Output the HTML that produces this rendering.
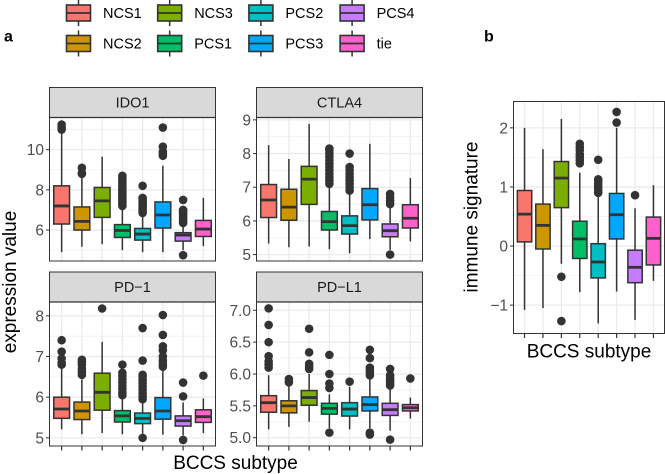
<!DOCTYPE html>
<html lang="en">
<head>
<meta charset="utf-8">
<title>BCCS subtype boxplots</title>
<style>
html,body{margin:0;padding:0;background:#fff;width:665px;height:474px;overflow:hidden}
svg{display:block;font-family:"Liberation Sans",Arial,sans-serif}
</style>
</head>
<body>
<svg id="fig" width="665" height="474" viewBox="0 0 665 474" xmlns="http://www.w3.org/2000/svg">
<text x="4" y="41.5" font-size="16" font-weight="700" fill="#000">a</text>
<text x="484" y="41.5" font-size="16" font-weight="700" fill="#000">b</text>
<text transform="translate(10.5,282) rotate(-90)" text-anchor="middle" dominant-baseline="central" font-size="19" fill="#000">expression value</text>
<text x="235.5" y="469" text-anchor="middle" font-size="19" fill="#000">BCCS subtype</text>
<text transform="translate(472,217) rotate(-90)" text-anchor="middle" dominant-baseline="central" font-size="19" fill="#000">immune signature</text>
<text x="589" y="357.5" text-anchor="middle" font-size="19" fill="#000">BCCS subtype</text>
</svg>
<script>
const categories = ["NCS1","NCS2","NCS3","PCS1","PCS2","PCS3","PCS4","tie"];
const colors = ["#F8766D","#CD9600","#7CAE00","#00BE67","#00BFC4","#00A9FF","#C77CFF","#FF61CC"];

const ido1Ticks = [6,8,10];
const ido1TickLabels = ["6","8","10"];
const ido1Low = [4.9,5.17,5.3,5.0,4.9,4.9,5.0,5.2];
const ido1Q1 = [6.3,6.0,6.63,5.63,5.5,6.1,5.45,5.68];
const ido1Med = [7.2,6.43,7.45,5.98,5.8,6.75,5.75,6.05];
const ido1Q3 = [8.2,7.15,8.12,6.27,6.08,7.4,5.87,6.48];
const ido1High = [10.9,8.65,9.65,7.08,6.75,9.2,6.25,7.6];
const ido1Out = [[11.0,11.1,11.25],[8.8,8.85,9.1],[],[7.2,7.3,7.4,7.5,7.6,7.7,7.8,7.9,8.0,8.1,8.2,8.3,8.4,8.5,8.6,8.7],[6.85,6.95,7.05,7.15,7.25,7.35,7.45,7.55,7.6,8.2],[9.7,9.8,9.9,10.15,11.1],[4.75,6.35,6.45,6.55,6.65,6.75,6.85,6.95,7.0,7.5],[]];

const ctla4Ticks = [5,6,7,8,9];
const ctla4TickLabels = ["5","6","7","8","9"];
const ctla4Low = [5.33,5.22,5.24,5.16,5.04,5.46,5.14,5.39];
const ctla4Q1 = [6.1,6.02,6.49,5.73,5.61,6.03,5.53,5.79];
const ctla4Med = [6.62,6.41,7.24,5.98,5.86,6.48,5.71,6.08];
const ctla4Q3 = [7.08,6.94,7.62,6.28,6.15,6.96,5.91,6.48];
const ctla4High = [8.25,7.84,8.88,7.02,6.84,8.29,6.45,7.27];
const ctla4Out = [[],[],[],[7.1,7.2,7.3,7.4,7.5,7.6,7.7,7.8,7.9,8.0,8.1,8.15],[6.9,7.0,7.1,7.2,7.3,7.4,7.5,7.6,8.0],[],[5.0,6.5,6.6,6.7,6.8],[]];

const pd1Ticks = [5,6,7,8];
const pd1TickLabels = ["5","6","7","8"];
const pd1Low = [5.21,5.09,5.12,5.09,5.1,5.08,5.06,5.12];
const pd1Q1 = [5.48,5.45,5.68,5.39,5.35,5.46,5.29,5.38];
const pd1Med = [5.71,5.66,6.12,5.54,5.48,5.66,5.42,5.52];
const pd1Q3 = [6.0,5.88,6.59,5.67,5.61,5.99,5.54,5.69];
const pd1High = [6.7,6.44,7.36,5.97,5.88,6.7,5.87,5.97];
const pd1Out = [[6.8,6.85,6.95,7.12,7.4],[6.55,6.62,6.7,6.8,6.86,6.92],[8.18],[6.05,6.12,6.2,6.28,6.36,6.44,6.52,6.6,6.8],[5.0,5.95,6.02,6.1,6.18,6.26,6.34,6.42,6.5,6.55,6.9,7.7],[6.75,6.82,6.9,7.0,7.15,7.25,7.53,8.02],[4.95,6.02,6.36],[6.53]];

const pdl1Ticks = [5,5.5,6,6.5,7];
const pdl1TickLabels = ["5.0","5.5","6.0","6.5","7.0"];
const pdl1Low = [5.13,5.17,5.25,5.15,5.13,5.15,5.11,5.3];
const pdl1Q1 = [5.4,5.39,5.51,5.37,5.34,5.42,5.35,5.42];
const pdl1Med = [5.55,5.5,5.63,5.46,5.45,5.52,5.44,5.47];
const pdl1Q3 = [5.66,5.58,5.74,5.54,5.55,5.64,5.54,5.52];
const pdl1High = [5.98,5.82,6.0,5.68,5.8,5.93,5.8,5.63];
const pdl1Out = [[6.1,6.15,6.2,6.28,6.5,6.77,7.03],[5.87,5.92],[6.08,6.12,6.16,6.34,6.71],[5.08,5.78,5.85,6.0,6.3],[5.88],[5.05,5.08,5.98,6.02,6.06,6.1,6.25,6.38],[4.97,5.82,5.86,5.9,5.94,5.98,6.08],[5.93]];

const sigTicks = [-1,0,1,2];
const sigTickLabels = ["\u22121","0","1","2"];
const sigLow = [-1.08,-1.05,-0.3,-0.78,-1.31,-0.77,-1.25,-0.59];
const sigQ1 = [0.07,-0.05,0.65,-0.21,-0.54,0.12,-0.62,-0.32];
const sigMed = [0.54,0.35,1.15,0.12,-0.27,0.53,-0.36,0.13];
const sigQ3 = [0.94,0.71,1.43,0.42,0.04,0.89,-0.07,0.49];
const sigHigh = [2.0,1.64,2.15,1.24,0.87,2.0,0.64,1.03];
const sigOut = [[],[],[-1.27,-0.52],[1.4,1.45,1.5,1.55,1.62,1.67,1.73],[0.9,0.95,1.0,1.05,1.1,1.13,1.46],[2.09,2.27],[0.86],[]];

const NS = "http://www.w3.org/2000/svg";
const fig = document.getElementById("fig");

function mk(parent, tag, attrs, text) {
  const el = document.createElementNS(NS, tag);
  for (const k in attrs) el.setAttribute(k, attrs[k]);
  if (text !== undefined) el.textContent = text;
  parent.appendChild(el);
  return el;
}

function makeYScale(domainLow, domainHigh, bottom, top) {
  return v => bottom - (v - domainLow) / (domainHigh - domainLow) * (bottom - top);
}
function makeXScale(left, right, count) {
  const step = (right - left) / (count + 0.2);
  return i => left + step * (0.6 + i);
}

function drawPanel(p) {
  const g = mk(fig, "g", {});
  
  
  const y = makeYScale(p.dom[0], p.dom[1], p.bottom, p.top);
  const x = makeXScale(p.left, p.right, categories.length);
  const band = x(1) - x(0);
  const w = p.right - p.left;

  // gridlines
  const step = p.ticks[1] - p.ticks[0];
  const minors = [p.ticks[0] - step / 2].concat(p.ticks.map(t => t + step / 2));
  minors.forEach(v => {
    const py = y(v);
    if (py > p.top && py < p.bottom) mk(g, "line", {x1:p.left, x2:p.right, y1:py, y2:py, stroke:"#f0f0f0", "stroke-width":0.8});
  });
  p.ticks.forEach(v => {
    const py = y(v);
    mk(g, "line", {x1:p.left, x2:p.right, y1:py, y2:py, stroke:"#ebebeb", "stroke-width":1.3});
  });
  categories.forEach((c, i) => {
    mk(g, "line", {x1:x(i), x2:x(i), y1:p.top, y2:p.bottom, stroke:"#ebebeb", "stroke-width":1.3});
  });

  // boxes
  categories.forEach((c, i) => {
    const b = mk(g, "g", {});
    
    
    const cx = x(i), hw = band * 0.39;
    mk(b, "line", {x1:cx, x2:cx, y1:y(p.low[i]), y2:y(p.q1[i]), stroke:"#333", "stroke-width":1.5});
    mk(b, "line", {x1:cx, x2:cx, y1:y(p.q3[i]), y2:y(p.high[i]), stroke:"#333", "stroke-width":1.5});
    mk(b, "rect", {x:cx - hw, y:y(p.q3[i]), width:hw * 2, height:y(p.q1[i]) - y(p.q3[i]), fill:colors[i], stroke:"#333", "stroke-width":1.5});
    mk(b, "line", {x1:cx - hw, x2:cx + hw, y1:y(p.med[i]), y2:y(p.med[i]), stroke:"#333", "stroke-width":2.8});
    p.out[i].forEach(v => {
      mk(b, "circle", {cx:cx, cy:y(v), r:p.r, fill:"#333"});
    });
  });

  // panel border
  mk(g, "rect", {x:p.left, y:p.top, width:w, height:p.bottom - p.top, fill:"none", stroke:"#333", "stroke-width":1});

  // y axis
  p.ticks.forEach((v, i) => {
    const py = y(v);
    mk(g, "line", {x1:p.left - 3.5, x2:p.left, y1:py, y2:py, stroke:"#333", "stroke-width":1});
    const t = mk(g, "text", {x:p.left - 5.5, y:py + 5.5, "text-anchor":"end", "font-size":15.5, fill:"#4d4d4d"}, p.labels[i]);
    
    
  });

  // x ticks
  if (p.xticks) {
    categories.forEach((c, i) => {
      mk(g, "line", {x1:x(i), x2:x(i), y1:p.bottom, y2:p.bottom + 4.5, stroke:"#333", "stroke-width":1.2});
    });
  }

  // strip
  if (p.title) {
    const s = mk(g, "rect", {x:p.left, y:p.top - 30, width:w, height:30, fill:"#d9d9d9", stroke:"#333", "stroke-width":1});
    
    
    mk(g, "line", {x1:p.left, x2:p.right, y1:p.top, y2:p.top, stroke:"#333", "stroke-width":1.2});
    const t = mk(g, "text", {x:(p.left + p.right) / 2, y:p.top - 10, "text-anchor":"middle", "font-size":14.5, fill:"#1a1a1a"}, p.title);
    
    
  }
}

drawPanel({name:"ido1", title:"IDO1", left:49.5, right:215.5, top:117.5, bottom:261, dom:[4.46,11.6], ticks:ido1Ticks, labels:ido1TickLabels, low:ido1Low, q1:ido1Q1, med:ido1Med, q3:ido1Q3, high:ido1High, out:ido1Out, r:4.3, xticks:false});
drawPanel({name:"ctla4", title:"CTLA4", left:256.5, right:422.5, top:117.5, bottom:261, dom:[4.81,9.07], ticks:ctla4Ticks, labels:ctla4TickLabels, low:ctla4Low, q1:ctla4Q1, med:ctla4Med, q3:ctla4Q3, high:ctla4High, out:ctla4Out, r:4.3, xticks:false});
drawPanel({name:"pd-1", title:"PD\u22121", left:49.5, right:215.5, top:302, bottom:446, dom:[4.8,8.34], ticks:pd1Ticks, labels:pd1TickLabels, low:pd1Low, q1:pd1Q1, med:pd1Med, q3:pd1Q3, high:pd1High, out:pd1Out, r:4.3, xticks:true});
drawPanel({name:"pd-l1", title:"PD\u2212L1", left:256.5, right:422.5, top:302, bottom:446, dom:[4.87,7.13], ticks:pdl1Ticks, labels:pdl1TickLabels, low:pdl1Low, q1:pdl1Q1, med:pdl1Med, q3:pdl1Q3, high:pdl1High, out:pdl1Out, r:4.3, xticks:true});
drawPanel({name:"immune", title:"", left:513.5, right:664.5, top:101.5, bottom:333.5, dom:[-1.48,2.446], ticks:sigTicks, labels:sigTickLabels, low:sigLow, q1:sigQ1, med:sigMed, q3:sigQ3, high:sigHigh, out:sigOut, r:4.3, xticks:true});

// legend (two rows, filled column by column)
categories.forEach((c, i) => {
  const col = Math.floor(i / 2), row = i % 2;
  const colLeft = 66.5 + col * 91.2;
  const rowMid = 13 + row * 30.5;
  const g = mk(fig, "g", {});
  
  
  const cx = colLeft + 12;
  mk(g, "line", {x1:cx, x2:cx, y1:rowMid - 13, y2:rowMid + 13, stroke:"#333", "stroke-width":1.5});
  mk(g, "rect", {x:colLeft, y:rowMid - 8, width:24, height:16, fill:colors[i], stroke:"#333", "stroke-width":1.6});
  mk(g, "line", {x1:colLeft, x2:colLeft + 24, y1:rowMid, y2:rowMid, stroke:"#333", "stroke-width":1.8});
  mk(g, "text", {x:colLeft + 36.5, y:rowMid + 5.2, "font-size":14.5, fill:"#000"}, c);
});
</script>
</body>
</html>
